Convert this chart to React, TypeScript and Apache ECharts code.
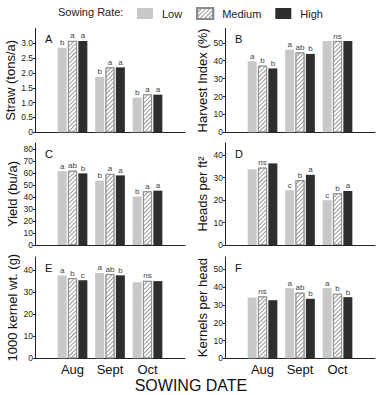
import React, { useEffect, useRef } from "react";
import * as echarts from "echarts";

const dates = ["Aug", "Sept", "Oct"];
const rates = ["Low", "Medium", "High"];

// Panel A: Straw (tons/a)
const aLow = [2.85, 1.87, 1.17];
const aMed = [3.08, 2.19, 1.28];
const aHigh = [3.08, 2.19, 1.27];
const aSig = [["b", "b", "b"], ["a", "a", "a"], ["a", "a", "a"]];
const aTicks = [0, 0.5, 1, 1.5, 2, 2.5, 3];

// Panel B: Harvest Index (%)
const bLow = [39.7, 46.2, 51];
const bMed = [37.2, 44.6, 51];
const bHigh = [35.7, 43.8, 51];
const bSig = [["a", "a", ""], ["b", "ab", "ns"], ["b", "b", ""]];
const bTicks = [0, 10, 20, 30, 40, 50];

// Panel C: Yield (bu/a)
const cLow = [61.5, 53.6, 40.3];
const cMed = [61.9, 59.2, 44.7];
const cHigh = [59.7, 58, 45.3];
const cSig = [["a", "b", "b"], ["ab", "a", "a"], ["b", "a", "a"]];
const cTicks = [0, 10, 20, 30, 40, 50, 60, 70, 80];

// Panel D: Heads per ft²
const dLow = [33.8, 24.4, 20];
const dMed = [34.5, 28.9, 23.1];
const dHigh = [36.4, 31.3, 24.1];
const dSig = [["", "c", "c"], ["ns", "b", "b"], ["", "a", "a"]];
const dTicks = [0, 10, 20, 30, 40];

// Panel E: 1000 kernel wt. (g)
const eLow = [37.4, 38.6, 34.4];
const eMed = [36.2, 38.1, 35];
const eHigh = [35.3, 37.5, 34.9];
const eSig = [["a", "a", ""], ["b", "ab", "ns"], ["c", "b", ""]];
const eTicks = [0, 10, 20, 30, 40];

// Panel F: Kernels per head
const fLow = [34.2, 39.5, 39.5];
const fMed = [34.8, 36.9, 36.3];
const fHigh = [32.7, 33.5, 34.4];
const fSig = [["", "a", "a"], ["ns", "ab", "b"], ["", "b", "b"]];
const fTicks = [0, 10, 20, 30, 40, 50];

const FONT = "Liberation Sans, Arial, Helvetica, sans-serif";

export default function App() {
  const ref = useRef<HTMLDivElement>(null);

  useEffect(() => {
    document.body.style.margin = "0";
    if (!ref.current) return;
    const chart = echarts.init(ref.current, undefined, { renderer: "svg" });

    const panels = [
      { letter: "A", name: "Straw (tons/a)", vals: [aLow, aMed, aHigh], sig: aSig, ticks: aTicks, max: 3.5, dec: true },
      { letter: "B", name: "Harvest Index (%)", vals: [bLow, bMed, bHigh], sig: bSig, ticks: bTicks, max: 58, dec: false },
      { letter: "C", name: "Yield (bu/a)", vals: [cLow, cMed, cHigh], sig: cSig, ticks: cTicks, max: 85, dec: false },
      { letter: "D", name: "Heads per ft²", vals: [dLow, dMed, dHigh], sig: dSig, ticks: dTicks, max: 45.5, dec: false },
      { letter: "E", name: "1000 kernel wt. (g)", vals: [eLow, eMed, eHigh], sig: eSig, ticks: eTicks, max: 45.8, dec: false },
      { letter: "F", name: "Kernels per head", vals: [fLow, fMed, fHigh], sig: fSig, ticks: fTicks, max: 57, dec: false },
    ];

    const cols = [35, 225];
    const rows = [
      { top: 28.5, height: 103.8 },
      { top: 143, height: 102 },
      { top: 257, height: 101.3 },
    ];

    const styles = [
      { color: "#c8c8c8" },
      {
        color: "#ffffff",
        borderColor: "#8a8a8a",
        borderWidth: 0.8,
        decal: {
          symbol: "rect",
          symbolSize: 1,
          dashArrayX: [[1, 0]],
          dashArrayY: [1, 2],
          rotation: -Math.PI / 4,
          color: "#9a9a9a",
        },
      },
      { color: "#2e2e2e" },
    ];

    const grids: any[] = [];
    const xAxes: any[] = [];
    const yAxes: any[] = [];
    const series: any[] = [];
    const graphics: any[] = [];

    panels.forEach((p, i) => {
      const col = i % 2;
      const row = Math.floor(i / 2);
      grids.push({ left: cols[col], width: 150, top: rows[row].top, height: rows[row].height, containLabel: false });
      xAxes.push({
        type: "category",
        gridIndex: i,
        data: ["", ...dates, ""],
        boundaryGap: false,
        axisLine: { lineStyle: { color: "#222", width: 1 } },
        axisTick: { show: false },
        axisLabel: { show: row === 2, interval: 0, fontSize: 13, color: "#111", margin: 5, fontFamily: FONT },
        splitLine: { show: false },
      });
      yAxes.push({
        type: "value",
        gridIndex: i,
        min: 0,
        max: p.max,
        name: p.name,
        nameLocation: "middle",
        nameGap: 16,
        nameTextStyle: { fontSize: 13, color: "#111", fontFamily: FONT },
        axisLine: { show: true, lineStyle: { color: "#222", width: 1 } },
        axisTick: { show: true, length: 2, customValues: p.ticks, lineStyle: { color: "#222" } },
        axisLabel: {
          customValues: p.ticks,
          fontSize: 8.5,
          color: "#222",
          margin: 2,
          fontFamily: FONT,
          formatter: (v: number) => (p.dec ? (v === 0 ? "0" : v.toFixed(1)) : String(v)),
        },
        splitLine: { show: false },
      });
      p.vals.forEach((vals, s) => {
        series.push({
          type: "bar",
          name: rates[s],
          xAxisIndex: i,
          yAxisIndex: i,
          data: [null, ...vals, null],
          barWidth: 9,
          barGap: "15%",
          itemStyle: styles[s],
          label: {
            show: true,
            position: "top",
            distance: 1,
            fontSize: 8,
            color: "#444",
            fontFamily: FONT,
            formatter: (prm: any) => p.sig[s][prm.dataIndex - 1] || "",
          },
        });
      });
      graphics.push({
        type: "text",
        left: cols[col] + 10,
        top: rows[row].top + 5,
        style: { text: p.letter, fontSize: 11, fill: "#111", fontFamily: FONT },
      });
    });

    graphics.push({
      type: "text",
      left: "center",
      top: 377,
      x: 14,
      style: { text: "SOWING DATE", fontSize: 16, fill: "#111", fontFamily: FONT },
    });

    chart.setOption({
      animation: false,
      backgroundColor: "#ffffff",
      textStyle: { fontFamily: FONT },
      title: {
        text: "Sowing Rate:",
        left: 58,
        top: 6,
        padding: 0,
        textStyle: { fontSize: 11, fontWeight: "normal", color: "#222", fontFamily: FONT },
      },
      legend: {
        data: rates,
        left: 137,
        top: 7,
        padding: 0,
        itemWidth: 16,
        itemHeight: 11,
        itemGap: 14,
        icon: "rect",
        textStyle: { fontSize: 11, color: "#222", fontFamily: FONT, padding: [0, 0, 0, 4] },
      },
      grid: grids,
      xAxis: xAxes,
      yAxis: yAxes,
      series,
      graphic: graphics,
    });

    return () => chart.dispose();
  }, []);

  return <div ref={ref} style={{ width: 382, height: 395 }} />;
}
